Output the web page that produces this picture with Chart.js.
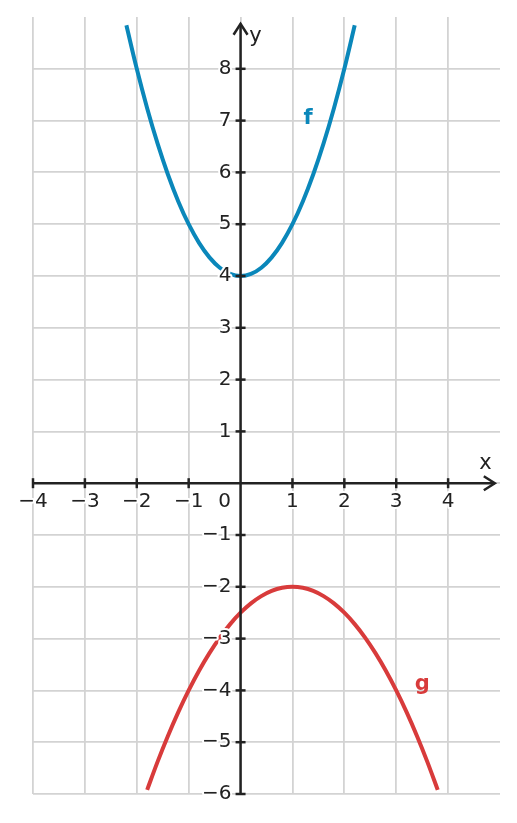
<!DOCTYPE html>
<html>
<head>
<meta charset="utf-8">
<script src="https://cdn.jsdelivr.net/npm/chart.js@4.4.1/dist/chart.umd.min.js"></script>
<style>
html,body{margin:0;padding:0;background:#fff;}
#wrap{width:517px;height:823px;}
</style>
</head>
<body>
<div id="wrap"><canvas id="c" width="517" height="823"></canvas></div>
<script>
// Data
const fX = [-2.2,-2.0,-1.8,-1.6,-1.4,-1.2,-1.0,-0.8,-0.6,-0.4,-0.2,0,0.2,0.4,0.6,0.8,1.0,1.2,1.4,1.6,1.8,2.0,2.2];
const fY = [8.84,8,7.24,6.56,5.96,5.44,5,4.64,4.36,4.16,4.04,4,4.04,4.16,4.36,4.64,5,5.44,5.96,6.56,7.24,8,8.84];
const gX = [-1.8,-1.6,-1.4,-1.2,-1.0,-0.8,-0.6,-0.4,-0.2,0,0.2,0.4,0.6,0.8,1.0,1.2,1.4,1.6,1.8,2.0,2.2,2.4,2.6,2.8,3.0,3.2,3.4,3.6,3.8];
const gY = [-5.92,-5.38,-4.88,-4.42,-4,-3.62,-3.28,-2.98,-2.72,-2.5,-2.32,-2.18,-2.08,-2.02,-2,-2.02,-2.08,-2.18,-2.32,-2.5,-2.72,-2.98,-3.28,-3.62,-4,-4.42,-4.88,-5.38,-5.92];
const xTicks = [-4,-3,-2,-1,1,2,3,4];
const yTicks = [-6,-5,-4,-3,-2,-1,1,2,3,4,5,6,7,8];
const curveLabels = [{text:'f', x:1.3, y:7.03}, {text:'g', x:3.5, y:-3.88}];

const FCOL = '#0a87ba';
const GCOL = '#d83b3b';
const AXCOL = '#222222';
const FONT = '"DejaVu Sans", sans-serif';

function lbl(v){ return v < 0 ? '\u2212' + Math.abs(v) : String(v); }

const axesPlugin = {
  id: 'axesPlugin',
  afterDatasetsDraw(chart){
    const ctx = chart.ctx;
    const xs = chart.scales.x, ys = chart.scales.y;
    const ox = xs.getPixelForValue(0), oy = ys.getPixelForValue(0);
    ctx.save();
    ctx.strokeStyle = AXCOL; ctx.fillStyle = AXCOL;
    ctx.lineWidth = 2.5; ctx.lineCap = 'butt';
    // x axis
    const xl = xs.getPixelForValue(-4), xr = xs.getPixelForValue(4.9);
    ctx.beginPath(); ctx.moveTo(xl, oy); ctx.lineTo(xr, oy); ctx.stroke();
    ctx.beginPath(); ctx.moveTo(xr-11, oy-7); ctx.lineTo(xr, oy); ctx.lineTo(xr-11, oy+7); ctx.stroke();
    // y axis
    const yb = ys.getPixelForValue(-6), yt = ys.getPixelForValue(8.87);
    ctx.beginPath(); ctx.moveTo(ox, yb); ctx.lineTo(ox, yt); ctx.stroke();
    ctx.beginPath(); ctx.moveTo(ox-7, yt+11); ctx.lineTo(ox, yt); ctx.lineTo(ox+7, yt+11); ctx.stroke();
    // ticks
    ctx.lineWidth = 2.5;
    xTicks.forEach(v => { const p = xs.getPixelForValue(v); ctx.beginPath(); ctx.moveTo(p, oy-5); ctx.lineTo(p, oy+5); ctx.stroke(); });
    yTicks.forEach(v => { const p = ys.getPixelForValue(v); ctx.beginPath(); ctx.moveTo(ox-5, p); ctx.lineTo(ox+5, p); ctx.stroke(); });
    // labels with halo
    ctx.font = '20px ' + FONT;
    ctx.lineJoin = 'round';
    function haloText(t, x, y){
      ctx.strokeStyle = '#ffffff'; ctx.lineWidth = 4; ctx.strokeText(t, x, y);
      ctx.fillStyle = AXCOL; ctx.fillText(t, x, y);
    }
    ctx.textAlign = 'center'; ctx.textBaseline = 'middle';
    xTicks.forEach(v => haloText(lbl(v), xs.getPixelForValue(v), oy + 19));
    ctx.textAlign = 'right'; ctx.textBaseline = 'middle';
    yTicks.forEach(v => haloText(lbl(v), ox - 9, ys.getPixelForValue(v)));
    ctx.textAlign = 'center'; ctx.textBaseline = 'middle';
    haloText('0', ox - 16, oy + 19);
    // axis names
    ctx.font = '21px ' + FONT;
    ctx.textAlign = 'center'; ctx.textBaseline = 'middle';
    haloText('x', xs.getPixelForValue(4.72), oy - 20);
    haloText('y', ox + 15, ys.getPixelForValue(8.62));
    // curve labels
    ctx.font = 'bold 21px ' + FONT;
    ctx.fillStyle = FCOL;
    ctx.fillText(curveLabels[0].text, xs.getPixelForValue(curveLabels[0].x), ys.getPixelForValue(curveLabels[0].y));
    ctx.fillStyle = GCOL;
    ctx.fillText(curveLabels[1].text, xs.getPixelForValue(curveLabels[1].x), ys.getPixelForValue(curveLabels[1].y));
    ctx.restore();
  }
};

const gridColor = (edge) => (c) => (c.tick && c.tick.value === edge) ? 'rgba(0,0,0,0)' : '#d3d3d3';

new Chart(document.getElementById('c'), {
  type: 'line',
  data: {
    datasets: [
      { label: 'f', data: fX.map((x,i)=>({x:x, y:fY[i]})), borderColor: FCOL, borderWidth: 4, pointRadius: 0, tension: 0.35, fill: false },
      { label: 'g', data: gX.map((x,i)=>({x:x, y:gY[i]})), borderColor: GCOL, borderWidth: 4, pointRadius: 0, tension: 0.35, fill: false }
    ]
  },
  options: {
    responsive: false,
    animation: false,
    devicePixelRatio: 1,
    layout: { padding: { left: 33, right: 17, top: 17, bottom: 29 } },
    plugins: { legend: { display: false }, tooltip: { enabled: false } },
    scales: {
      x: { type: 'linear', min: -4, max: 5,
           ticks: { display: false, stepSize: 1 },
           border: { display: false },
           grid: { color: gridColor(5), lineWidth: 1.8, drawTicks: false } },
      y: { type: 'linear', min: -6, max: 9,
           ticks: { display: false, stepSize: 1 },
           border: { display: false },
           grid: { color: gridColor(9), lineWidth: 1.8, drawTicks: false } }
    }
  },
  plugins: [axesPlugin]
});
</script>
</body>
</html>
